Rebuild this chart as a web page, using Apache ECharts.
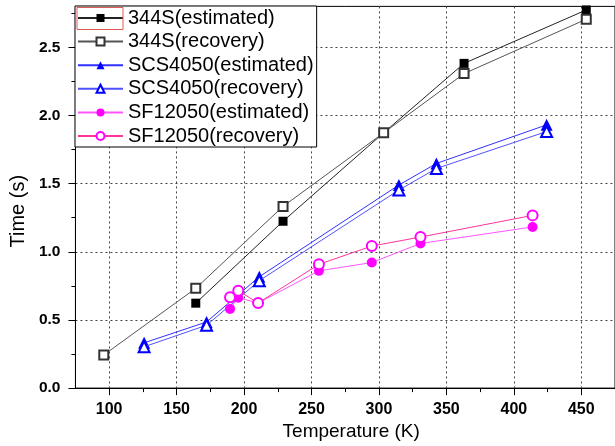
<!DOCTYPE html>
<html>
<head>
<meta charset="utf-8">
<script src="https://cdn.jsdelivr.net/npm/echarts@6/dist/echarts.min.js"></script>
<style>html,body{margin:0;padding:0;background:#fff}#c{width:615px;height:446px}</style>
</head>
<body>
<div id="c"></div>
<script>
// Data (Temperature K, Time s)
const s344Est = [[164.2,0.623],[228.9,1.224],[303.5,1.873],[363.1,2.382],[453.7,2.774]];
const s344Rec = [[96.0,0.243],[164.2,0.732],[228.9,1.333],[303.5,1.873],[363.1,2.307],[453.7,2.706]];
const scsEst = [[125.9,0.332],[172.2,0.485],[211.3,0.817],[314.8,1.490],[342.6,1.648],[424.3,1.931]];
const scsRec = [[125.9,0.303],[172.2,0.461],[211.3,0.788],[314.8,1.453],[342.6,1.611],[424.3,1.882]];
const sfEst = [[189.6,0.581],[195.7,0.663],[210.4,0.624],[255.5,0.860],[294.7,0.921],[330.8,1.061],[413.9,1.182]];
const sfRec = [[189.6,0.666],[195.7,0.715],[210.4,0.624],[255.5,0.908],[294.7,1.042],[330.8,1.108],[413.9,1.267]];
const xMajor = [100,150,200,250,300,350,400,450];
const xMinor = [125,175,225,275,325,375,425,475];
const yMajor = [0,0.5,1.0,1.5,2.0,2.5];
const yMinor = [0.25,0.75,1.25,1.75,2.25,2.75];

const FONT = 'Liberation Sans';
const chart = echarts.init(document.getElementById('c'), null, {renderer:'canvas'});
const grid = {left:65.5, top:6.4, width:551.6, height:385.3, show:true, borderColor:'#000', borderWidth:1, backgroundColor:'transparent'};
const dotted = {show:true, lineStyle:{color:'#444', type:[2,3], width:1}};
function mk(name, data, symbol, color, lineColor, size, z){
  const empty = symbol.startsWith('empty');
  return {name, type:'line', data, symbol, symbolSize:size, xAxisIndex:0, yAxisIndex:0,
    lineStyle:{color:lineColor, width:1},
    itemStyle:{color: color, borderColor: color, borderWidth: empty?0.9:0},
    emphasis:{disabled:true}, z: z, animation:false, clip:false};
}
chart.setOption({
  animation:false,
  textStyle:{fontFamily:FONT},
  grid: grid,
  xAxis:[
    {type:'value', min:75, max:475, gridIndex:0, position:'bottom',
     axisLine:{show:true, onZero:false, lineStyle:{color:'#000', width:1}},
     axisTick:{show:true, inside:false, length:7, customValues:xMajor, lineStyle:{color:'#000'}},
     axisLabel:{show:true, customValues:xMajor, margin:13, color:'#000', fontSize:16, fontWeight:'bold', fontFamily:FONT},
     splitLine: dotted,
     name:'Temperature (K)', nameLocation:'middle', nameGap:31,
     nameTextStyle:{fontSize:19, color:'#000', fontFamily:FONT, padding:[0,0,0,12]}},
    {type:'value', min:75, max:475, gridIndex:0, position:'bottom',
     axisLine:{show:false, onZero:false},
     axisTick:{show:true, length:4, customValues:xMinor, lineStyle:{color:'#000'}},
     axisLabel:{show:false}, splitLine:{show:false}}
  ],
  yAxis:[
    {type:'value', min:0, max:2.8, gridIndex:0, position:'left',
     axisLine:{show:true, onZero:false, lineStyle:{color:'#000', width:1}},
     axisTick:{show:true, length:7, customValues:yMajor, lineStyle:{color:'#000'}},
     axisLabel:{show:true, customValues:yMajor, margin:15, color:'#000', fontSize:15.5, fontWeight:'bold', fontFamily:FONT,
       formatter: v => v.toFixed(1)},
     splitLine: dotted,
     name:'Time (s)', nameLocation:'middle', nameGap:40,
     nameTextStyle:{fontSize:20, color:'#000', fontFamily:FONT, padding:[0,28,0,0]}},
    {type:'value', min:0, max:2.8, gridIndex:0, position:'left',
     axisLine:{show:false, onZero:false},
     axisTick:{show:true, length:4, customValues:yMinor, lineStyle:{color:'#000'}},
     axisLabel:{show:false}, splitLine:{show:false}}
  ],
  legend:{
    orient:'vertical', left:75, top:6, padding:[2,3,1,2], itemGap:3.6, itemWidth:45, itemHeight:10,
    backgroundColor:'#fff', borderColor:'#000', borderWidth:1, borderRadius:0,
    textStyle:{fontSize:20, lineHeight:20, color:'#000', fontFamily:FONT},
    selectedMode:false,
    data:['344S(estimated)','344S(recovery)','SCS4050(estimated)','SCS4050(recovery)','SF12050(estimated)','SF12050(recovery)']
  },
  graphic:[{type:'rect', shape:{x:77, y:7.5, width:46, height:22}, style:{fill:'none', stroke:'#e05a5a', lineWidth:1}, z:100}],
  series:[
    mk('344S(estimated)', s344Est, 'rect', '#000', '#222', 9, 2),
    mk('344S(recovery)', s344Rec, 'emptyRect', '#333', '#555', 9, 3),
    mk('SCS4050(estimated)', scsEst, 'triangle', '#0000ff', '#3030ff', 12, 4),
    mk('SCS4050(recovery)', scsRec, 'emptyTriangle', '#0000ff', '#5050ff', 11, 5),
    mk('SF12050(estimated)', sfEst, 'circle', '#ff00ff', '#ff55ff', 10, 6),
    mk('SF12050(recovery)', sfRec, 'emptyCircle', '#ff00ff', '#ff3399', 10, 7)
  ]
});
</script>
</body>
</html>
